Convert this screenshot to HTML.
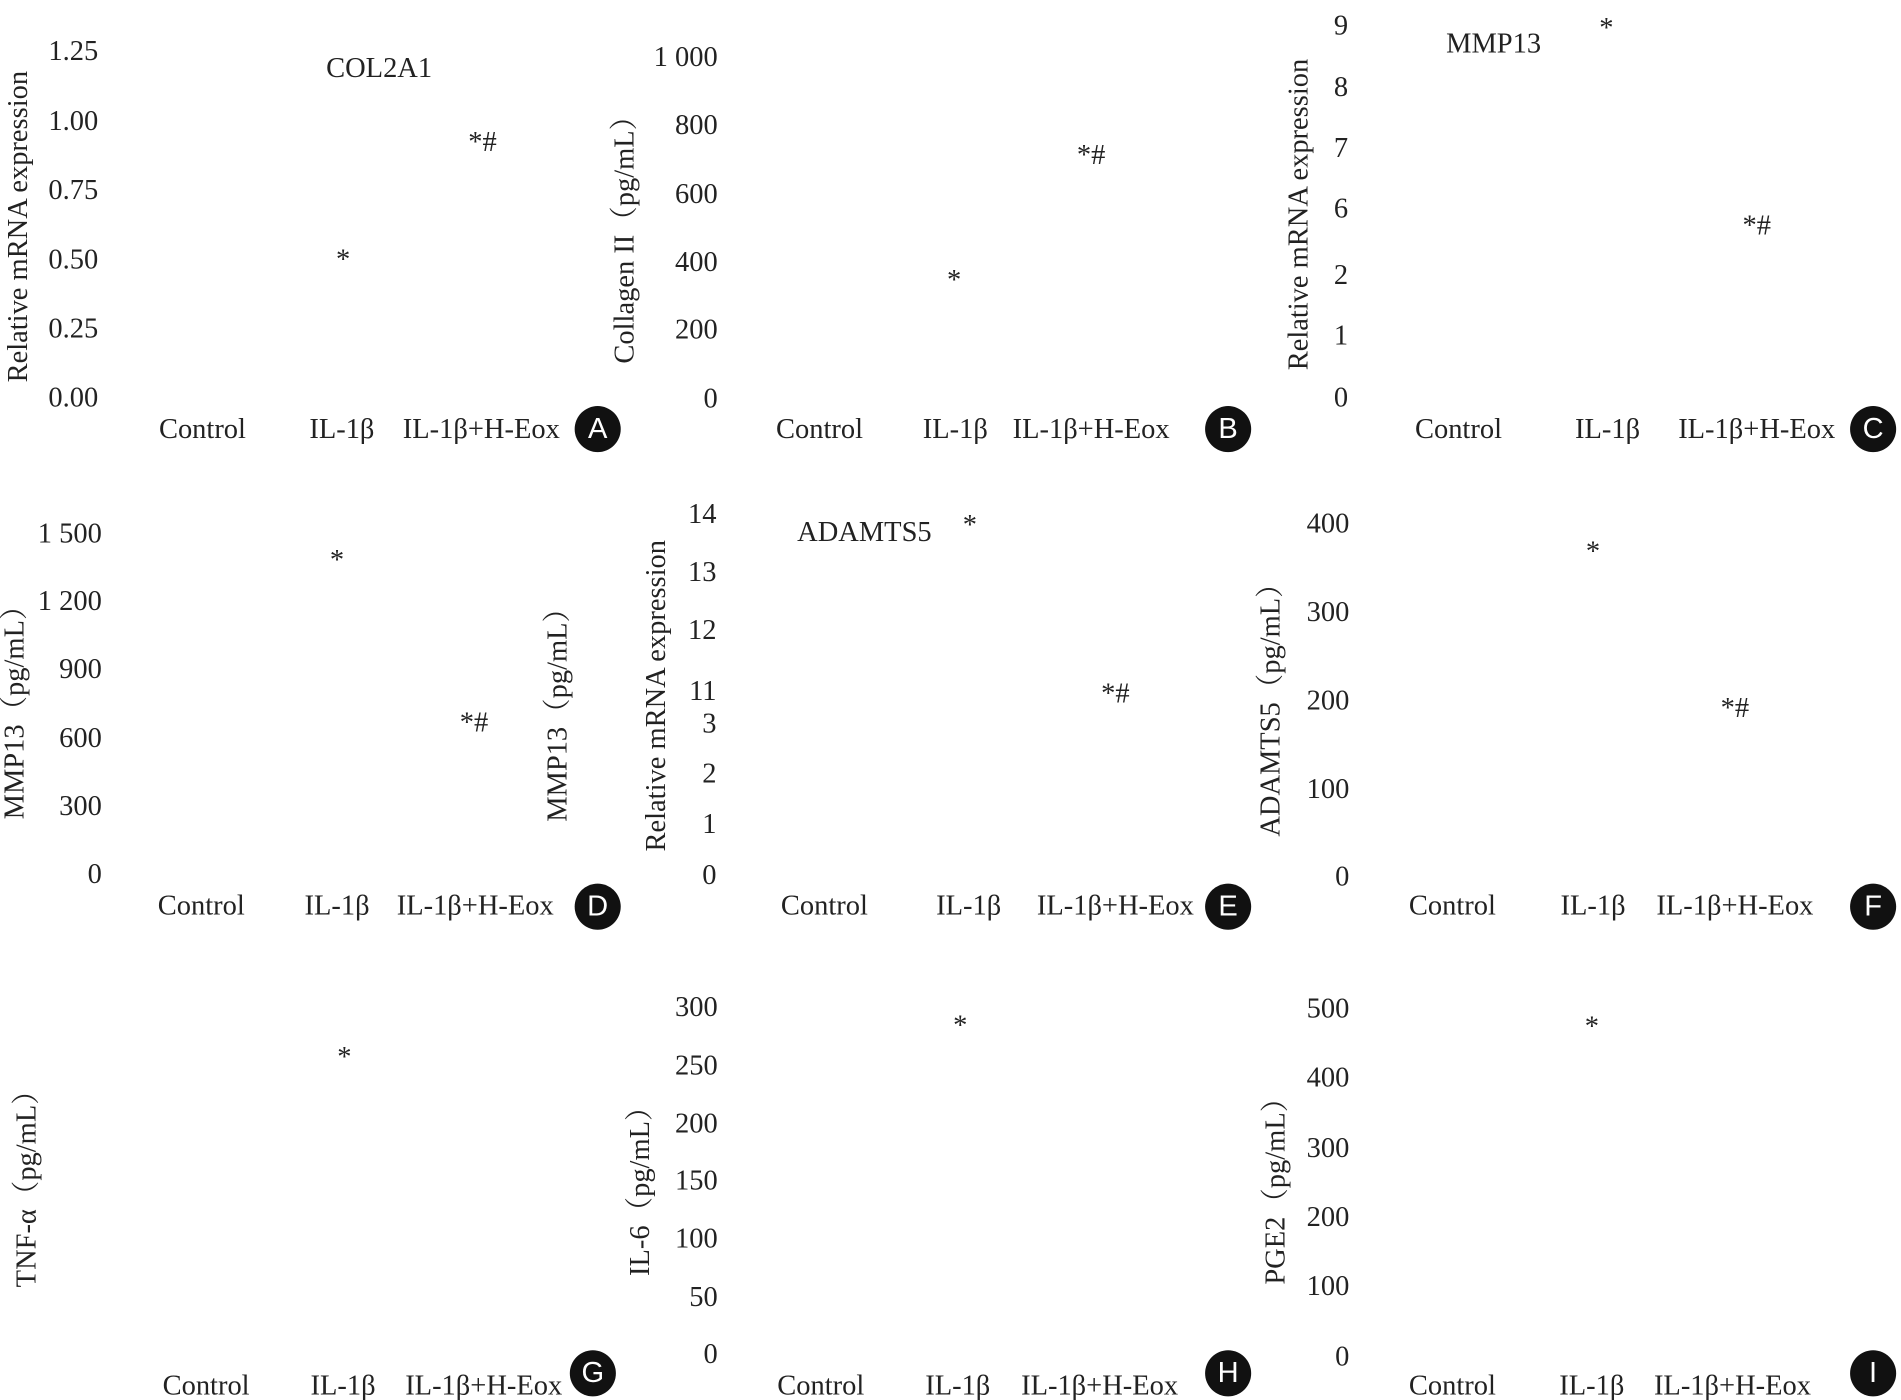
<!DOCTYPE html>
<html><head><meta charset="utf-8"><style>
html,body{margin:0;padding:0;background:#fff;}
svg{display:block;}
text{font-family:"Liberation Serif","Noto Serif CJK SC",serif;font-size:23.5px;fill:#222;dominant-baseline:middle;}
.r{text-anchor:end}.c{text-anchor:middle}
.lt{font-family:"Liberation Sans",sans-serif;fill:#fff;font-size:24px;text-anchor:middle}
</style></head><body>
<svg width="1901" height="1400" viewBox="0 0 1568 1155" preserveAspectRatio="none" xmlns="http://www.w3.org/2000/svg">
<g transform="translate(0,2)">
<!-- A -->
<text class="r" x="81" y="42">1.25</text><text class="r" x="81" y="100">1.00</text><text class="r" x="81" y="157">0.75</text><text class="r" x="81" y="214">0.50</text><text class="r" x="81" y="271">0.25</text><text class="r" x="81" y="328">0.00</text>
<text class="c" transform="translate(17,185) rotate(-90)">Relative mRNA expression</text>
<text x="269" y="56">COL2A1</text>
<text class="c" x="398" y="117">*#</text><text class="c" x="283" y="214">*</text>
<text class="c" x="167" y="354">Control</text><text class="c" x="282" y="354">IL-1β</text><text class="c" x="397" y="354">IL-1β+H-Eox</text>
<circle cx="493" cy="352" r="19" fill="#111"/><text class="lt" x="493" y="353">A</text>
<!-- B -->
<text class="r" x="592" y="47">1 000</text><text class="r" x="592" y="103">800</text><text class="r" x="592" y="160">600</text><text class="r" x="592" y="216">400</text><text class="r" x="592" y="272">200</text><text class="r" x="592" y="329">0</text>
<text class="c" transform="translate(517,190) rotate(-90)">Collagen II（pg/mL）</text>
<text class="c" x="900" y="128">*#</text><text class="c" x="787" y="231">*</text>
<text class="c" x="676" y="354">Control</text><text class="c" x="788" y="354">IL-1β</text><text class="c" x="900" y="354">IL-1β+H-Eox</text>
<circle cx="1013" cy="352" r="19" fill="#111"/><text class="lt" x="1013" y="353">B</text>
<!-- C -->
<text class="r" x="1112" y="21">9</text><text class="r" x="1112" y="72">8</text><text class="r" x="1112" y="122">7</text><text class="r" x="1112" y="172">6</text><text class="r" x="1112" y="227">2</text><text class="r" x="1112" y="277">1</text><text class="r" x="1112" y="328">0</text>
<text class="c" transform="translate(1073,175) rotate(-90)">Relative mRNA expression</text>
<text class="c" x="1232" y="36">MMP13</text>
<text class="c" x="1325" y="23">*</text><text class="c" x="1449" y="186">*#</text>
<text class="c" x="1203" y="354">Control</text><text class="c" x="1326" y="354">IL-1β</text><text class="c" x="1449" y="354">IL-1β+H-Eox</text>
<circle cx="1545" cy="352" r="19" fill="#111"/><text class="lt" x="1545" y="353">C</text>
<!-- D -->
<text class="r" x="84" y="440">1 500</text><text class="r" x="84" y="496">1 200</text><text class="r" x="84" y="552">900</text><text class="r" x="84" y="609">600</text><text class="r" x="84" y="665">300</text><text class="r" x="84" y="721">0</text>
<text class="c" transform="translate(14,580) rotate(-90)">MMP13（pg/mL）</text>
<text class="c" transform="translate(462,582) rotate(-90)">MMP13（pg/mL）</text>
<text class="c" x="278" y="462">*</text><text class="c" x="391" y="596">*#</text>
<text class="c" x="166" y="747">Control</text><text class="c" x="278" y="747">IL-1β</text><text class="c" x="392" y="747">IL-1β+H-Eox</text>
<circle cx="493" cy="746" r="19" fill="#111"/><text class="lt" x="493" y="747">D</text>
<!-- E -->
<text class="r" x="591" y="424">14</text><text class="r" x="591" y="472">13</text><text class="r" x="591" y="520">12</text><text class="r" x="591" y="570">11</text><text class="r" x="591" y="597">3</text><text class="r" x="591" y="638">2</text><text class="r" x="591" y="680">1</text><text class="r" x="591" y="722">0</text>
<text class="c" transform="translate(543,572) rotate(-90)">Relative mRNA expression</text>
<text class="c" x="713" y="439">ADAMTS5</text>
<text class="c" x="800" y="433">*</text><text class="c" x="920" y="572">*#</text>
<text class="c" x="680" y="747">Control</text><text class="c" x="799" y="747">IL-1β</text><text class="c" x="920" y="747">IL-1β+H-Eox</text>
<circle cx="1013" cy="746" r="19" fill="#111"/><text class="lt" x="1013" y="747">E</text>
<!-- F -->
<text class="r" x="1113" y="432">400</text><text class="r" x="1113" y="505">300</text><text class="r" x="1113" y="578">200</text><text class="r" x="1113" y="651">100</text><text class="r" x="1113" y="723">0</text>
<text class="c" transform="translate(1050,578) rotate(-90)">ADAMTS5（pg/mL）</text>
<text class="c" x="1314" y="455">*</text><text class="c" x="1431" y="584">*#</text>
<text class="c" x="1198" y="747">Control</text><text class="c" x="1314" y="747">IL-1β</text><text class="c" x="1431" y="747">IL-1β+H-Eox</text>
<circle cx="1545" cy="746" r="19" fill="#111"/><text class="lt" x="1545" y="747">F</text>
<!-- G -->
<text class="c" transform="translate(24,973) rotate(-90)">TNF-α（pg/mL）</text>
<text class="c" x="284" y="872">*</text>
<text class="c" x="170" y="1143">Control</text><text class="c" x="283" y="1143">IL-1β</text><text class="c" x="399" y="1143">IL-1β+H-Eox</text>
<circle cx="489" cy="1131" r="19" fill="#111"/><text class="lt" x="489" y="1132">G</text>
<!-- H -->
<text class="r" x="592" y="831">300</text><text class="r" x="592" y="879">250</text><text class="r" x="592" y="927">200</text><text class="r" x="592" y="974">150</text><text class="r" x="592" y="1022">100</text><text class="r" x="592" y="1070">50</text><text class="r" x="592" y="1117">0</text>
<text class="c" transform="translate(530,975) rotate(-90)">IL-6（pg/mL）</text>
<text class="c" x="792" y="846">*</text>
<text class="c" x="677" y="1143">Control</text><text class="c" x="790" y="1143">IL-1β</text><text class="c" x="907" y="1143">IL-1β+H-Eox</text>
<circle cx="1013" cy="1131" r="19" fill="#111"/><text class="lt" x="1013" y="1132">H</text>
<!-- I -->
<text class="r" x="1113" y="832">500</text><text class="r" x="1113" y="889">400</text><text class="r" x="1113" y="947">300</text><text class="r" x="1113" y="1004">200</text><text class="r" x="1113" y="1061">100</text><text class="r" x="1113" y="1119">0</text>
<text class="c" transform="translate(1054,975) rotate(-90)">PGE2（pg/mL）</text>
<text class="c" x="1313" y="847">*</text>
<text class="c" x="1198" y="1143">Control</text><text class="c" x="1313" y="1143">IL-1β</text><text class="c" x="1429" y="1143">IL-1β+H-Eox</text>
<circle cx="1545" cy="1131" r="19" fill="#111"/><text class="lt" x="1545" y="1132">I</text>
</g>
</svg>
</body></html>
